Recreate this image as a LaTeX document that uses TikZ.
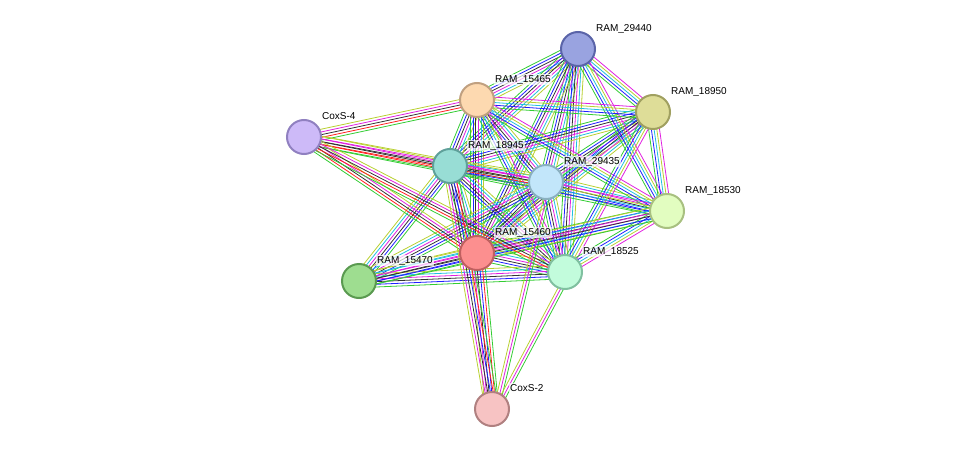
\documentclass[tikz,border=0pt]{standalone}
\usepackage{fontspec}
\setmainfont{Liberation Sans}
\usetikzlibrary{calc}
\definecolor{eG}{HTML}{33CC33}
\definecolor{eR}{HTML}{FF2020}
\definecolor{eB}{HTML}{2020FF}
\definecolor{eK}{HTML}{333333}
\definecolor{eM}{HTML}{E020E0}
\definecolor{eC}{HTML}{20C0E0}
\definecolor{eY}{HTML}{B8D030}
\definecolor{eP}{HTML}{A0A0F0}
\tikzset{
  prot/.style={circle,minimum size=34pt,line width=2pt,inner sep=0pt},
  lab/.style={anchor=base west,font=\fontsize{10}{11}\selectfont,inner sep=1pt,fill=white,fill opacity=0.7,text opacity=1},
  ed/.style={line width=0.8pt}
}
\newcommand\edg[3]{%
  \foreach \c [count=\i] in {#3} {%
    \draw[ed,\c] ($(#1)!{(\i-3.5)*2.7pt}!90:(#2)$) -- ($(#2)!{(\i-3.5)*2.7pt}!-90:(#1)$);
  }}
\begin{document}
\begin{tikzpicture}[x=1pt,y=-1pt]
\useasboundingbox (0,0) rectangle (975,455);
\coordinate (a29440) at (578,49);
\coordinate (a15465) at (477,100);
\coordinate (a18950) at (653,112);
\coordinate (acs4) at (304,137);
\coordinate (a18945) at (450,166);
\coordinate (a29435) at (546,182);
\coordinate (a18530) at (667,211);
\coordinate (a15460) at (477,253);
\coordinate (a15470) at (359,281);
\coordinate (a18525) at (565,272);
\coordinate (acs2) at (492,409);
% core edges
\foreach \p/\q in {a29440/a15465,a29440/a18945,a29440/a29435,a29440/a15460,a29440/a18525,
  a15465/a18945,a15465/a29435,a15465/a15460,
  a18950/a18945,a18950/a29435,a18950/a15460,
  a18945/a29435,a18945/a15460,a18945/a18525,
  a29435/a18530,a29435/a15460,a29435/a18525,
  a18530/a15460,a15460/a18525}
  {\edg{\p}{\q}{eG,eB,eK,eM,eC,eY}}
\foreach \p/\q in {a29440/a18950,a29440/a18530,a15465/a18950,a15465/a18530,a15465/a18525,a18950/a18530,a18950/a18525,a18945/a18530,a18530/a18525}
  {\edg{\p}{\q}{eG,eB,eC,eY,eM}}
\foreach \p/\q in {a15470/a18945,a15470/a29435,a15470/a15460,a15470/a18525,a15470/a18530}
  {\edg{\p}{\q}{eG,eB,eK,eM,eC,eY}}
\foreach \p/\q in {acs4/a15465,acs4/a18945,acs4/a29435,acs4/a15460,acs4/a18525}
  {\edg{\p}{\q}{eG,eR,eK,eM,eY}}
\foreach \p/\q in {acs2/a15460,acs2/a18945}
  {\edg{\p}{\q}{eG,eR,eB,eK,eM,eY}}
\foreach \p/\q in {acs2/a29435,acs2/a18525}
  {\edg{\p}{\q}{eG,eM,eY}}
% nodes
\node[prot,fill={rgb,255:red,153;green,163;blue,224},draw={rgb,255:red,90;green,100;blue,168}] (n29440) at (a29440) {};
\node[prot,fill={rgb,255:red,253;green,217;blue,176},draw={rgb,255:red,192;green,160;blue,128}] (n15465) at (a15465) {};
\node[prot,fill={rgb,255:red,222;green,221;blue,152},draw={rgb,255:red,160;green,160;blue,96}] (n18950) at (a18950) {};
\node[prot,fill={rgb,255:red,205;green,186;blue,248},draw={rgb,255:red,144;green,128;blue,192}] (ncs4) at (acs4) {};
\node[prot,fill={rgb,255:red,152;green,221;blue,213},draw={rgb,255:red,95;green,160;blue,154}] (n18945) at (a18945) {};
\node[prot,fill={rgb,255:red,194;green,230;blue,250},draw={rgb,255:red,138;green,176;blue,192}] (n29435) at (a29435) {};
\node[prot,fill={rgb,255:red,226;green,253;blue,192},draw={rgb,255:red,168;green,192;blue,128}] (n18530) at (a18530) {};
\node[prot,fill={rgb,255:red,252;green,143;blue,143},draw={rgb,255:red,192;green,96;blue,96}] (n15460) at (a15460) {};
\node[prot,fill={rgb,255:red,158;green,221;blue,144},draw={rgb,255:red,90;green,154;blue,80}] (n15470) at (a15470) {};
\node[prot,fill={rgb,255:red,194;green,252;blue,220},draw={rgb,255:red,128;green,192;blue,160}] (n18525) at (a18525) {};
\node[prot,fill={rgb,255:red,247;green,195;blue,195},draw={rgb,255:red,176;green,128;blue,128}] (ncs2) at (acs2) {};
% labels
\foreach \n/\t in {a29440/RAM\_29440,a15465/RAM\_15465,a18950/RAM\_18950,acs4/CoxS-4,a18945/RAM\_18945,a29435/RAM\_29435,a18530/RAM\_18530,a15460/RAM\_15460,a15470/RAM\_15470,a18525/RAM\_18525,acs2/CoxS-2}
  \node[lab] (l\n) at ($(\n)+(17,-18)$) {\t};
\end{tikzpicture}
\end{document}
